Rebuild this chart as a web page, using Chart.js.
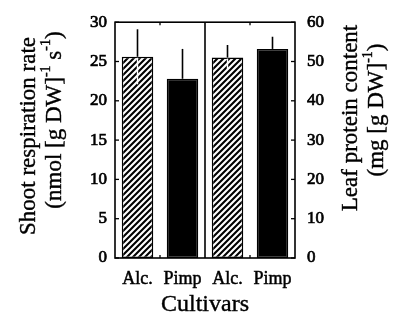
<!DOCTYPE html>
<html>
<head>
<meta charset="utf-8">
<script src="https://cdn.jsdelivr.net/npm/chart.js@4.4.1/dist/chart.umd.min.js"></script>
<style>
html,body{margin:0;padding:0;background:#fff;}
#wrap{position:relative;width:401px;height:322px;}
</style>
</head>
<body>
<div id="wrap"><canvas id="c" width="401" height="322"></canvas></div>
<script>
// ---- data ----
const categories = ["Alc.", "Pimp", "Alc.", "Pimp"];
const respiration = [25.6, 22.8, null, null];      // nmol [g DW]-1 s-1 (left axis)
const respirationErr = [3.5, 3.8, null, null];
const protein = [null, null, 51.0, 53.2];           // mg [g DW]-1 (right axis)
const proteinErr = [null, null, 3.2, 3.1];
const leftTicks = [0, 5, 10, 15, 20, 25, 30];
const rightTicks = [0, 10, 20, 30, 40, 50, 60];

const SERIF = '"Liberation Serif", "Times New Roman", serif';

// hatch pattern
function makeHatch() {
  const s = 6;
  const c = document.createElement('canvas');
  c.width = s; c.height = s;
  const g = c.getContext('2d');
  g.fillStyle = '#fff'; g.fillRect(0, 0, s, s);
  g.strokeStyle = '#000'; g.lineWidth = 2.1;
  g.beginPath();
  g.moveTo(-2, 2); g.lineTo(2, -2);
  g.moveTo(0, s); g.lineTo(s, 0);
  g.moveTo(s - 2, s + 2); g.lineTo(s + 2, s - 2);
  g.stroke();
  return g.createPattern(c, 'repeat');
}
const hatch = makeHatch();

function drawRich(ctx, parts, cx, cy, size) {
  const supSize = Math.round(size * 0.6);
  let total = 0;
  const widths = parts.map(p => {
    ctx.font = (p.sup ? supSize : size) + 'px ' + SERIF;
    const w = ctx.measureText(p.t).width;
    total += w;
    return w;
  });
  let x = cx - total / 2;
  ctx.textBaseline = 'middle';
  ctx.textAlign = 'left';
  ctx.lineWidth = 0.4;
  ctx.strokeStyle = '#000';
  parts.forEach((p, i) => {
    ctx.font = (p.sup ? supSize : size) + 'px ' + SERIF;
    const yy = p.sup ? cy - size * 0.38 : cy;
    ctx.fillText(p.t, x, yy);
    ctx.strokeText(p.t, x, yy);
    x += widths[i];
  });
}

const decor = {
  id: 'decor',
  afterDatasetsDraw(chart) {
    const ctx = chart.ctx;
    const a = chart.chartArea;
    const x = chart.scales.x, y = chart.scales.y, y2 = chart.scales.y2;
    ctx.save();
    ctx.strokeStyle = '#000';
    ctx.fillStyle = '#000';

    // error bars
    const errs = [respirationErr, proteinErr];
    chart.data.datasets.forEach((ds, di) => {
      const meta = chart.getDatasetMeta(di);
      const sc = chart.scales[meta.yAxisID];
      meta.data.forEach((el, j) => {
        const v = ds.data[j], e = errs[di][j];
        if (v == null || e == null) return;
        const px = el.x;
        ctx.lineWidth = 1.6;
        ctx.strokeStyle = '#000';
        ctx.beginPath();
        ctx.moveTo(px, sc.getPixelForValue(v));
        ctx.lineTo(px, sc.getPixelForValue(v + e));
        ctx.stroke();
        if (j % 2 === 0) {
          ctx.strokeStyle = '#fff';
          ctx.lineWidth = 1.4;
          ctx.beginPath();
          ctx.moveTo(px, sc.getPixelForValue(v) + 1);
          ctx.lineTo(px, sc.getPixelForValue(v - e));
          ctx.stroke();
        }
      });
    });

    ctx.strokeStyle = '#000';
    ctx.lineWidth = 1.6;
    ctx.strokeRect(a.left, a.top, a.right - a.left, a.bottom - a.top);
    const mid = (x.getPixelForValue(1) + x.getPixelForValue(2)) / 2;
    ctx.beginPath();
    ctx.moveTo(mid, a.top); ctx.lineTo(mid, a.bottom);
    ctx.stroke();

    ctx.lineWidth = 1.3;
    y.ticks.forEach(t => {
      const yy = y.getPixelForValue(t.value);
      ctx.beginPath(); ctx.moveTo(a.left, yy); ctx.lineTo(a.left + 4, yy); ctx.stroke();
    });
    y2.ticks.forEach(t => {
      const yy = y2.getPixelForValue(t.value);
      ctx.beginPath(); ctx.moveTo(a.right, yy); ctx.lineTo(a.right - 4, yy); ctx.stroke();
    });
    [0, 2].forEach(i => {
      const xx = (x.getPixelForValue(i) + x.getPixelForValue(i + 1)) / 2;
      ctx.beginPath(); ctx.moveTo(xx, a.top); ctx.lineTo(xx, a.top + 3); ctx.stroke();
      ctx.beginPath(); ctx.moveTo(xx, a.bottom); ctx.lineTo(xx, a.bottom - 3); ctx.stroke();
    });

    const fs = 23;
    ctx.save();
    ctx.translate(29, 136); ctx.rotate(-Math.PI / 2);
    drawRich(ctx, [{t: 'Shoot respiration rate'}], 0, 0, fs);
    ctx.restore();
    ctx.save();
    ctx.translate(55, 120); ctx.rotate(-Math.PI / 2);
    drawRich(ctx, [{t: '(nmol [g DW]'}, {t: '-1', sup: true}, {t: ' s'}, {t: '-1', sup: true}, {t: ')'}], 0, 0, fs);
    ctx.restore();
    ctx.save();
    ctx.translate(351, 118); ctx.rotate(-Math.PI / 2);
    drawRich(ctx, [{t: 'Leaf protein content'}], 0, 0, fs);
    ctx.restore();
    ctx.save();
    ctx.translate(377, 110); ctx.rotate(-Math.PI / 2);
    drawRich(ctx, [{t: '(mg [g DW]'}, {t: '-1', sup: true}, {t: ')'}], 0, 0, fs);
    ctx.restore();
    drawRich(ctx, [{t: 'Cultivars'}], (a.left + a.right) / 2, 305, 24);

    ctx.restore();
  }
};

const tickFont = { family: SERIF, size: 17 };

new Chart(document.getElementById('c'), {
  type: 'bar',
  data: {
    labels: categories,
    datasets: [
      {
        label: 'Shoot respiration rate',
        data: respiration,
        yAxisID: 'y',
        backgroundColor: [hatch, '#000', hatch, '#000'],
        borderColor: '#000',
        borderWidth: 1.5,
        borderSkipped: false
      },
      {
        label: 'Leaf protein content',
        data: protein,
        yAxisID: 'y2',
        backgroundColor: [hatch, '#000', hatch, '#000'],
        borderColor: '#000',
        borderWidth: 1.5,
        borderSkipped: false
      }
    ]
  },
  options: {
    responsive: false,
    animation: false,
    devicePixelRatio: 1,
    datasets: { bar: { grouped: false, categoryPercentage: 1, barPercentage: 0.7 } },
    layout: { padding: { top: 7, left: 0, right: 0, bottom: 0 } },
    plugins: { legend: { display: false }, tooltip: { enabled: false } },
    scales: {
      x: {
        type: 'category',
        grid: { display: false, drawTicks: false },
        border: { display: false },
        ticks: { color: '#000', font: { family: SERIF, size: 18 }, padding: 10, maxRotation: 0, autoSkip: false,
                 textStrokeColor: '#000', textStrokeWidth: 0.5 },
        afterFit(s) { s.height = 64; }
      },
      y: {
        position: 'left',
        min: 0, max: 30,
        afterBuildTicks(s) { s.ticks = leftTicks.map(v => ({ value: v })); },
        grid: { display: false, drawTicks: false },
        border: { display: false },
        ticks: { color: '#000', font: tickFont, padding: 8, textStrokeColor: '#000', textStrokeWidth: 0.7 },
        afterFit(s) { s.width = 115; }
      },
      y2: {
        position: 'right',
        min: 0, max: 60,
        afterBuildTicks(s) { s.ticks = rightTicks.map(v => ({ value: v })); },
        grid: { display: false, drawTicks: false },
        border: { display: false },
        ticks: { color: '#000', font: tickFont, padding: 12, textStrokeColor: '#000', textStrokeWidth: 0.7 },
        afterFit(s) { s.width = 106; }
      }
    }
  },
  plugins: [decor]
});
</script>
</body>
</html>
